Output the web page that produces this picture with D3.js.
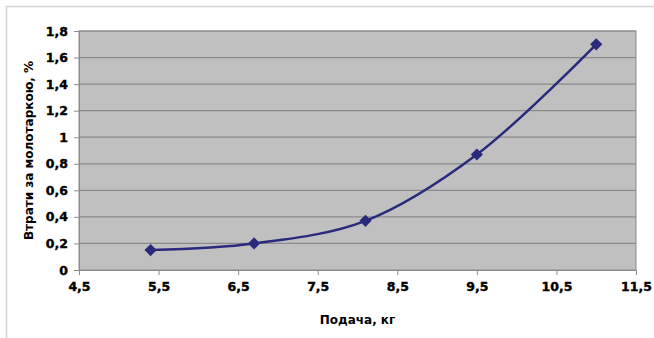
<!DOCTYPE html>
<html>
<head>
<meta charset="utf-8">
<script src="https://cdn.jsdelivr.net/npm/d3@7"></script>
<style>
  body { margin: 0; background: #fff; }
  text { font-family: "DejaVu Sans", sans-serif; font-weight: bold; fill: #000; }
</style>
</head>
<body>
<svg id="chart"></svg>
<script>
// data
const feed = [5.4, 6.7, 8.1, 9.5, 11];
const losses = [0.15, 0.2, 0.37, 0.87, 1.7];
const xTicks = [4.5, 5.5, 6.5, 7.5, 8.5, 9.5, 10.5, 11.5];
const yTicks = [0, 0.2, 0.4, 0.6, 0.8, 1, 1.2, 1.4, 1.6, 1.8];

let width = 654, height = 338;
let margin = { top: 31, right: 18, bottom: 68, left: 79 };

let svg = d3.select('#chart')
    .attr('width', width)
    .attr('height', height);

// outer chart frame
svg.append('rect')
    .attr('x', 6.5).attr('y', 6.5)
    .attr('width', width).attr('height', height)
    .style('fill', 'none')
    .style('stroke', '#d4d4d4')
    .style('stroke-width', '1.5px');

let x = d3.scaleLinear()
    .domain([4.5, 11.5])
    .range([margin.left, width - margin.right]);

let y = d3.scaleLinear()
    .domain([0, 1.8])
    .range([height - margin.bottom, margin.top]);

let comma = d => String(d).replace('.', ',');

// plot area
svg.append('rect')
    .attr('x', x(4.5)).attr('y', y(1.8))
    .attr('width', x(11.5) - x(4.5))
    .attr('height', y(0) - y(1.8))
    .style('fill', '#c0c0c0')
    .style('stroke', '#8c8c8c')
    .style('stroke-width', '1px');

svg.append('g')
  .selectAll('line')
    .data(yTicks.slice(1))
  .enter().append('line')
    .attr('x1', x(4.5)).attr('x2', x(11.5))
    .attr('y1', d => y(d)).attr('y2', d => y(d))
    .style('stroke', '#8a8a8a')
    .style('stroke-width', '1.2px');

let yAxis = d3.axisLeft(y)
    .tickValues(yTicks)
    .tickFormat(comma)
    .tickSize(5)
    .tickPadding(6);

let xAxis = d3.axisBottom(x)
    .tickValues(xTicks)
    .tickFormat(comma)
    .tickSize(5)
    .tickPadding(7);

let gy = svg.append('g')
    .attr('transform', `translate(${x(4.5)},0)`)
    .call(yAxis);

let gx = svg.append('g')
    .attr('transform', `translate(0,${y(0)})`)
    .call(xAxis);

[gx, gy].forEach(g => {
  g.select('.domain').style('stroke', '#8c8c8c');
  g.selectAll('.tick line').style('stroke', '#8c8c8c');
  g.selectAll('.tick text')
    .style('font-size', '12.5px')
    .style('font-family', '"DejaVu Sans", sans-serif')
    .style('font-weight', 'bold')
    .style('stroke', '#000')
    .style('stroke-width', '0.4px');
});

// series
let pts = feed.map((f, i) => [f, losses[i]]);

let line = d3.line()
    .x(d => x(d[0]))
    .y(d => y(d[1]))
    .curve(d3.curveCatmullRom.alpha(0.5));

svg.append('path')
    .datum(pts)
    .attr('d', line)
    .style('fill', 'none')
    .style('stroke', '#2a2a7c')
    .style('stroke-width', '2.5px');

svg.selectAll('.marker')
    .data(pts)
  .enter().append('path')
    .attr('class', 'marker')
    .attr('d', d3.symbol(d3.symbolDiamond2, 95))
    .attr('transform', d => `translate(${x(d[0])},${y(d[1])})`)
    .style('fill', '#2a2a7c');

// axis titles
svg.append('text')
    .attr('x', (x(4.5) + x(11.5)) / 2)
    .attr('y', 324)
    .attr('text-anchor', 'middle')
    .style('font-size', '12px')
    .text('Подача, кг');

svg.append('text')
    .attr('transform', `translate(33,${(y(0) + y(1.8)) / 2}) rotate(-90)`)
    .attr('text-anchor', 'middle')
    .style('font-size', '12px')
    .text('Втрати за молотаркою, %');
</script>
</body>
</html>
